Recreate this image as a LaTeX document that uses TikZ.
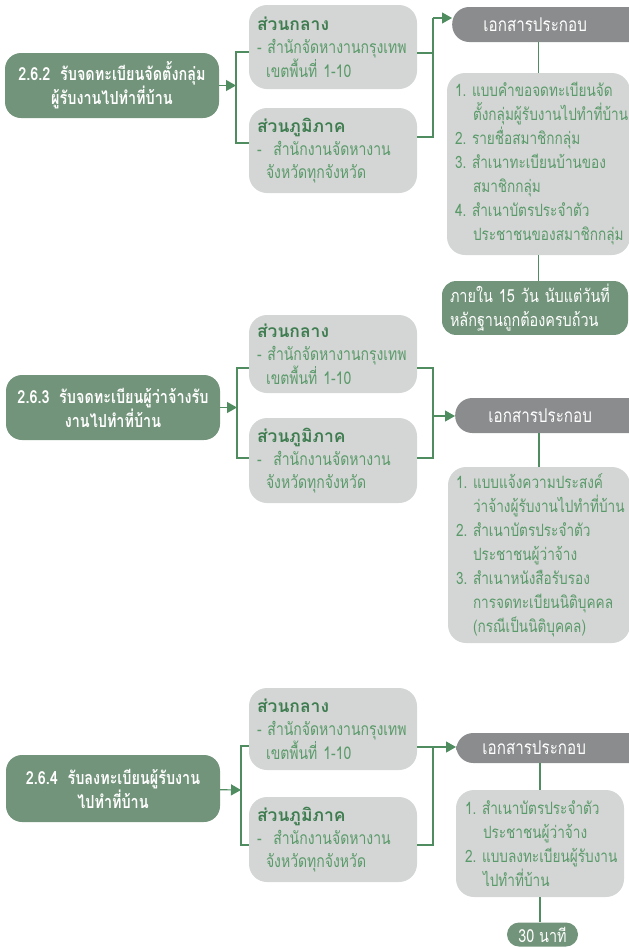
\documentclass[tikz,border=0pt]{standalone}
\usepackage{fontspec}
\newfontfamily\thaifont[Script=Thai, FakeStretch=0.8]{Loma}
\newfontfamily\thaititle[Script=Thai]{Loma}
\usetikzlibrary{arrows.meta}

\definecolor{boxgreen}{HTML}{72947A}
\definecolor{linegreen}{HTML}{4F8C5F}
\definecolor{boxgray}{HTML}{D4D6D5}
\definecolor{pillgray}{HTML}{8B8C8E}
\definecolor{titlegreen}{HTML}{3F7D51}
\definecolor{textgreen}{HTML}{5A9A6A}

\tikzset{
  mainbox/.style={fill=boxgreen, text=white, rounded corners=16pt, minimum width=214pt,
    minimum height=65pt, align=center, font=\thaifont\bfseries\fontsize{18}{24}\selectfont},
  officebox/.style={fill=boxgray, text=textgreen, rounded corners=18pt, text width=152pt,
    inner xsep=8pt, align=left, font=\thaifont\fontsize{17.5}{23}\selectfont},
  docpill/.style={fill=pillgray, text=white, rounded corners=17pt, minimum width=200pt,
    anchor=west, font=\thaifont\fontsize{19}{22}\selectfont},
  listbox/.style={fill=boxgray, text=textgreen, rounded corners=18pt, inner xsep=8pt,
    align=left, font=\thaifont\fontsize{17}{24}\selectfont},
  timebox/.style={fill=boxgreen, text=white, rounded corners=14pt, align=left,
    font=\thaifont\fontsize{18}{24}\selectfont},
  link/.style={draw=linegreen, line width=1.2pt},
}
\newcommand{\officetitle}[1]{{\thaititle\bfseries\fontsize{17.5}{23}\selectfont\color{titlegreen}#1}}

\begin{document}
\begin{tikzpicture}[>={Triangle[length=10pt,width=11pt]}, x=1pt, y=-1pt]
    \clip (0,0) rectangle (629,948);

    % 2.6.2 จัดตั้งกลุ่ม
    \node[mainbox] (main1) at (112,85.5) {2.6.2\ \ รับจดทะเบียนจัดตั้งกลุ่ม\\ผู้รับงานไปทำที่บ้าน};
    \node[officebox, minimum height=84pt] (center1) at (333,47)
        {\officetitle{ส่วนกลาง}\\-~สำนักจัดหางานกรุงเทพ\\\hspace*{9pt}เขตพื้นที่ 1-10};
    \node[officebox, minimum height=85pt] (region1) at (333,150.5)
        {\officetitle{ส่วนภูมิภาค}\\-~~สำนักงานจัดหางาน\\\hspace*{9pt}จังหวัดทุกจังหวัด};
    \node[docpill, minimum height=35pt] (pill1) at (452,24.5) {เอกสารประกอบ\hspace*{34pt}};
    \node[listbox, text width=167pt, minimum height=182pt] (list1) at (538.5,164)
        {1.~แบบคำขอจดทะเบียนจัด\\\hspace*{18pt}ตั้งกลุ่มผู้รับงานไปทำที่บ้าน\\2.~รายชื่อสมาชิกกลุ่ม\\%
         3.~สำเนาทะเบียนบ้านของ\\\hspace*{18pt}สมาชิกกลุ่ม\\4.~สำเนาบัตรประจำตัว\\%
         \hspace*{18pt}ประชาชนของสมาชิกกลุ่ม};
    \node[timebox, minimum width=186pt, minimum height=50pt, text width=170pt] (time1) at (535,308)
        {ภายใน 15 วัน นับแต่วันที่\\หลักฐานถูกต้องครบถ้วน};

    \coordinate (fork1) at (236,85.5);
    \coordinate (join1) at (433,18);
    \draw[link, ->] (main1) -- (fork1);
    \draw[link] ([yshift=-5pt]center1.west) -| (fork1) |- ([yshift=7.5pt]region1.west);
    \draw[link] ([yshift=-6pt]center1.east) -| (join1);
    \draw[link] ([yshift=13.5pt]region1.east) -| (join1);
    \draw[link, ->] (join1) -- (join1 -| pill1.west);
    \draw[link] (list1.north) -- (list1.north |- pill1.south);
    \draw[link] (list1.south) -- (list1.south |- time1.north);

    % 2.6.3 ผู้ว่าจ้าง
    \node[mainbox] (main2) at (113,407.5) {2.6.3\ \ รับจดทะเบียนผู้ว่าจ้างรับ\\งานไปทำที่บ้าน};
    \node[officebox, minimum height=78pt] (center2) at (333,354)
        {\officetitle{ส่วนกลาง}\\-~สำนักจัดหางานกรุงเทพ\\\hspace*{9pt}เขตพื้นที่ 1-10};
    \node[officebox, minimum height=85pt] (region2) at (333,460.5)
        {\officetitle{ส่วนภูมิภาค}\\-~~สำนักงานจัดหางาน\\\hspace*{9pt}จังหวัดทุกจังหวัด};
    \node[docpill, minimum height=35pt] (pill2) at (455,415.5) {เอกสารประกอบ\hspace*{30pt}};
    \node[listbox, text width=166pt, minimum height=176pt] (list2) at (539,555)
        {1.~แบบแจ้งความประสงค์\\\hspace*{17pt}ว่าจ้างผู้รับงานไปทำที่บ้าน\\2.~สำเนาบัตรประจำตัว\\%
         \hspace*{17pt}ประชาชนผู้ว่าจ้าง\\3.~สำเนาหนังสือรับรอง\\\hspace*{17pt}การจดทะเบียนนิติบุคคล\\%
         \hspace*{17pt}(กรณีเป็นนิติบุคคล)};

    \coordinate (fork2) at (237,407.5);
    \coordinate (join2) at (433,416);
    \draw[link, ->] (main2) -- (fork2);
    \draw[link] ([yshift=-14pt]center2.west) -| (fork2) |- ([yshift=2.5pt]region2.west);
    \draw[link] ([yshift=-14pt]center2.east) -| (join2) |- ([yshift=2.5pt]region2.east);
    \draw[link, ->] (join2) -- (join2 -| pill2.west);
    \draw[link] (list2.north) -- (list2.north |- pill2.south);

    % 2.6.4 ลงทะเบียนผู้รับงาน
    \node[mainbox, minimum height=67pt] (main3) at (113,788.5) {2.6.4\ \ รับลงทะเบียนผู้รับงาน\\ไปทำที่บ้าน};
    \node[officebox, minimum height=82pt] (center3) at (333,729)
        {\officetitle{ส่วนกลาง}\\-~สำนักจัดหางานกรุงเทพ\\\hspace*{9pt}เขตพื้นที่ 1-10};
    \node[officebox, minimum height=85pt] (region3) at (333,839.5)
        {\officetitle{ส่วนภูมิภาค}\\-~~สำนักงานจัดหางาน\\\hspace*{9pt}จังหวัดทุกจังหวัด};
    \node[docpill, minimum height=30pt] (pill3) at (456,748) {เอกสารประกอบ\hspace*{44pt}};
    \node[listbox, text width=150pt, inner xsep=9pt, minimum height=107pt] (list3) at (540,843.5)
        {1.~สำเนาบัตรประจำตัว\\\hspace*{18pt}ประชาชนผู้ว่าจ้าง\\2.~แบบลงทะเบียนผู้รับงาน\\%
         \hspace*{18pt}ไปทำที่บ้าน};
    \node[timebox, minimum width=71pt, minimum height=24pt, rounded corners=12pt, inner sep=1pt] (time3)
        at (542.5,934.5) {30 นาที};

    \coordinate (fork3) at (241,790);
    \coordinate (join3) at (433,747);
    \draw[link, ->] (main3) -- (fork3);
    \draw[link] ([yshift=-17pt]center3.west) -| (fork3) |- ([yshift=-5.5pt]region3.west);
    \draw[link] ([yshift=-18pt]center3.east) -- (join3) |- ([yshift=-5.5pt]region3.east);
    \draw[link, ->] (join3) -- (join3 -| pill3.west);
    \draw[link] (list3.north) -- (list3.north |- pill3.south);
    \draw[link] (list3.south) -- (list3.south |- time3.north);
\end{tikzpicture}
\end{document}
